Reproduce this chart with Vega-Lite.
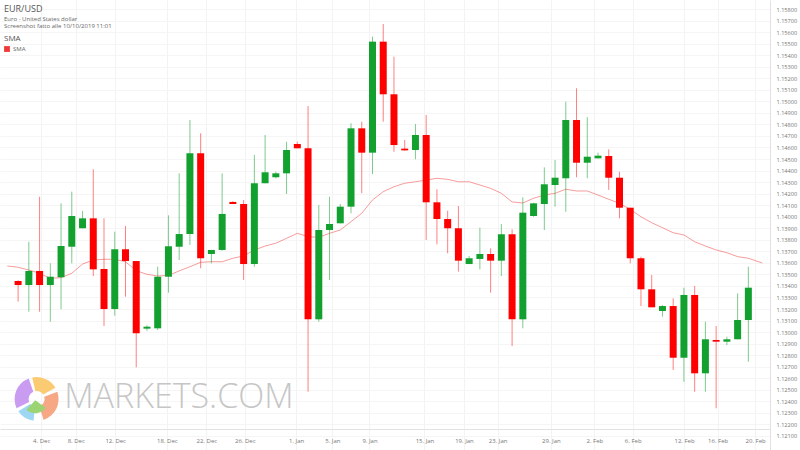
{
  "$schema": "https://vega.github.io/schema/vega-lite/v6.json",
  "width": 770,
  "height": 450,
  "autosize": {"type": "none"},
  "padding": {"left": 0, "top": 0, "right": 30, "bottom": 0},
  "background": "white",
  "config": {"view": {"stroke": null}, "font": "Open Sans"},
  "title": {
    "text": "EUR/USD",
    "subtitle": ["Euro - United States dollar", "Screenshot fatto alle 10/10/2019 11:01"],
    "anchor": "start",
    "frame": "group",
    "orient": "top",
    "offset": -29,
    "dx": 4,
    "fontSize": 9,
    "fontWeight": "normal",
    "color": "#555555",
    "subtitleFontSize": 6,
    "subtitleColor": "#666666",
    "subtitlePadding": 2,
    "subtitleLineHeight": 7.5
  },
  "datasets": {
    "candles": [
      {"i":1,"o":1.13443,"h":1.13450,"l":1.13264,"c":1.13408},
      {"i":2,"o":1.13408,"h":1.13783,"l":1.13177,"c":1.13530},
      {"i":3,"o":1.13530,"h":1.14173,"l":1.13177,"c":1.13408},
      {"i":4,"o":1.13408,"h":1.13596,"l":1.13090,"c":1.13480},
      {"i":5,"o":1.13475,"h":1.14116,"l":1.13198,"c":1.13746},
      {"i":6,"o":1.13740,"h":1.14217,"l":1.13596,"c":1.14006},
      {"i":7,"o":1.13900,"h":1.14050,"l":1.13900,"c":1.13986},
      {"i":8,"o":1.13986,"h":1.14411,"l":1.13486,"c":1.13544},
      {"i":9,"o":1.13547,"h":1.13986,"l":1.13053,"c":1.13200},
      {"i":10,"o":1.13200,"h":1.13870,"l":1.13142,"c":1.13718},
      {"i":11,"o":1.13718,"h":1.13920,"l":1.13307,"c":1.13616},
      {"i":12,"o":1.13616,"h":1.13616,"l":1.12695,"c":1.12990},
      {"i":13,"o":1.13030,"h":1.13060,"l":1.13012,"c":1.13047},
      {"i":14,"o":1.13033,"h":1.13567,"l":1.13018,"c":1.13480},
      {"i":15,"o":1.13480,"h":1.14012,"l":1.13342,"c":1.13744},
      {"i":16,"o":1.13740,"h":1.14376,"l":1.13625,"c":1.13850},
      {"i":17,"o":1.13850,"h":1.14838,"l":1.13755,"c":1.14550},
      {"i":18,"o":1.14550,"h":1.14723,"l":1.13553,"c":1.13640},
      {"i":19,"o":1.13677,"h":1.13712,"l":1.13596,"c":1.13712},
      {"i":20,"o":1.13712,"h":1.14376,"l":1.13705,"c":1.14024},
      {"i":21,"o":1.14128,"h":1.14135,"l":1.14110,"c":1.14110},
      {"i":22,"o":1.14110,"h":1.14145,"l":1.13452,"c":1.13590},
      {"i":23,"o":1.13590,"h":1.14535,"l":1.13567,"c":1.14290},
      {"i":24,"o":1.14290,"h":1.14708,"l":1.14290,"c":1.14385},
      {"i":25,"o":1.14342,"h":1.14390,"l":1.14333,"c":1.14376},
      {"i":26,"o":1.14376,"h":1.14650,"l":1.14197,"c":1.14578},
      {"i":27,"o":1.14630,"h":1.14650,"l":1.14593,"c":1.14593},
      {"i":28,"o":1.14593,"h":1.14959,"l":1.12484,"c":1.13111},
      {"i":29,"o":1.13111,"h":1.14102,"l":1.13090,"c":1.13885},
      {"i":30,"o":1.13885,"h":1.14173,"l":1.13452,"c":1.13937},
      {"i":31,"o":1.13943,"h":1.14110,"l":1.13943,"c":1.14087},
      {"i":32,"o":1.14087,"h":1.14810,"l":1.14030,"c":1.14766},
      {"i":33,"o":1.14766,"h":1.14823,"l":1.14203,"c":1.14555},
      {"i":34,"o":1.14555,"h":1.15560,"l":1.14370,"c":1.15517},
      {"i":35,"o":1.15517,"h":1.15670,"l":1.14823,"c":1.15061},
      {"i":36,"o":1.15061,"h":1.15387,"l":1.14563,"c":1.14621},
      {"i":37,"o":1.14590,"h":1.14665,"l":1.14572,"c":1.14575},
      {"i":38,"o":1.14578,"h":1.14803,"l":1.14498,"c":1.14708},
      {"i":39,"o":1.14708,"h":1.14881,"l":1.13798,"c":1.14125},
      {"i":40,"o":1.14125,"h":1.14238,"l":1.13761,"c":1.13980},
      {"i":41,"o":1.13980,"h":1.14052,"l":1.13683,"c":1.13900},
      {"i":42,"o":1.13900,"h":1.14093,"l":1.13524,"c":1.13619},
      {"i":43,"o":1.13590,"h":1.13660,"l":1.13590,"c":1.13640},
      {"i":44,"o":1.13634,"h":1.13905,"l":1.13544,"c":1.13677},
      {"i":45,"o":1.13677,"h":1.13726,"l":1.13342,"c":1.13619},
      {"i":46,"o":1.13619,"h":1.13937,"l":1.13486,"c":1.13848},
      {"i":47,"o":1.13848,"h":1.13891,"l":1.12880,"c":1.13111},
      {"i":48,"o":1.13111,"h":1.14168,"l":1.13033,"c":1.14035},
      {"i":49,"o":1.14006,"h":1.14121,"l":1.14000,"c":1.14116},
      {"i":50,"o":1.14110,"h":1.14428,"l":1.13885,"c":1.14281},
      {"i":51,"o":1.14275,"h":1.14491,"l":1.14087,"c":1.14338},
      {"i":52,"o":1.14333,"h":1.14997,"l":1.14043,"c":1.14838},
      {"i":53,"o":1.14838,"h":1.15113,"l":1.14342,"c":1.14468},
      {"i":54,"o":1.14468,"h":1.14862,"l":1.14333,"c":1.14520},
      {"i":55,"o":1.14506,"h":1.14555,"l":1.14506,"c":1.14529},
      {"i":56,"o":1.14526,"h":1.14584,"l":1.14232,"c":1.14338},
      {"i":57,"o":1.14338,"h":1.14390,"l":1.13986,"c":1.14078},
      {"i":58,"o":1.14078,"h":1.14078,"l":1.13596,"c":1.13640},
      {"i":59,"o":1.13640,"h":1.13654,"l":1.13226,"c":1.13371},
      {"i":60,"o":1.13371,"h":1.13495,"l":1.13215,"c":1.13215},
      {"i":61,"o":1.13183,"h":1.13235,"l":1.13134,"c":1.13226},
      {"i":62,"o":1.13226,"h":1.13293,"l":1.12672,"c":1.12778},
      {"i":63,"o":1.12778,"h":1.13385,"l":1.12570,"c":1.13322},
      {"i":64,"o":1.13322,"h":1.13400,"l":1.12484,"c":1.12643},
      {"i":65,"o":1.12643,"h":1.13090,"l":1.12484,"c":1.12938},
      {"i":66,"o":1.12932,"h":1.13053,"l":1.12340,"c":1.12917},
      {"i":67,"o":1.12917,"h":1.12960,"l":1.12888,"c":1.12938},
      {"i":68,"o":1.12938,"h":1.13336,"l":1.12938,"c":1.13105},
      {"i":69,"o":1.13105,"h":1.13567,"l":1.12744,"c":1.13385}
    ],
    "sma": [
      {"i":0,"v":1.13573},{"i":1,"v":1.13562},{"i":2,"v":1.13538},{"i":3,"v":1.13510},{"i":4,"v":1.13466},
      {"i":5,"v":1.13472},{"i":6,"v":1.13510},{"i":7,"v":1.13590},{"i":8,"v":1.13625},{"i":9,"v":1.13631},
      {"i":10,"v":1.13631},{"i":11,"v":1.13610},{"i":12,"v":1.13532},{"i":13,"v":1.13501},{"i":14,"v":1.13486},
      {"i":15,"v":1.13492},{"i":16,"v":1.13530},{"i":17,"v":1.13567},{"i":18,"v":1.13605},{"i":19,"v":1.13610},
      {"i":20,"v":1.13610},{"i":21,"v":1.13640},{"i":22,"v":1.13660},{"i":23,"v":1.13712},{"i":24,"v":1.13746},
      {"i":25,"v":1.13770},{"i":26,"v":1.13813},{"i":27,"v":1.13856},{"i":28,"v":1.13827},{"i":29,"v":1.13822},
      {"i":30,"v":1.13856},{"i":31,"v":1.13885},{"i":32,"v":1.13957},{"i":33,"v":1.14030},{"i":34,"v":1.14145},
      {"i":35,"v":1.14217},{"i":36,"v":1.14260},{"i":37,"v":1.14290},{"i":38,"v":1.14303},{"i":39,"v":1.14318},
      {"i":40,"v":1.14333},{"i":41,"v":1.14324},{"i":42,"v":1.14303},{"i":43,"v":1.14303},{"i":44,"v":1.14275},
      {"i":45,"v":1.14246},{"i":46,"v":1.14203},{"i":47,"v":1.14128},{"i":48,"v":1.14119},{"i":49,"v":1.14160},
      {"i":50,"v":1.14188},{"i":51,"v":1.14203},{"i":52,"v":1.14238},{"i":53,"v":1.14223},{"i":54,"v":1.14223},
      {"i":55,"v":1.14188},{"i":56,"v":1.14151},{"i":57,"v":1.14116},{"i":58,"v":1.14064},{"i":59,"v":1.14000},
      {"i":60,"v":1.13948},{"i":61,"v":1.13905},{"i":62,"v":1.13861},{"i":63,"v":1.13842},{"i":64,"v":1.13783},
      {"i":65,"v":1.13746},{"i":66,"v":1.13712},{"i":67,"v":1.13688},{"i":68,"v":1.13654},{"i":69,"v":1.13640},
      {"i":70.3,"v":1.13599}
    ],
    "logo": [
      {"seg":"purple","a0":4.25,"a1":5.95},
      {"seg":"yellow","a0":6.05,"a1":7.35},
      {"seg":"salmon","a0":1.2,"a1":2.85},
      {"seg":"blue","a0":3.25,"a1":4.15}
    ],
    "one": [{"name":"MARKETS.COM"}]
  },
  "layer": [
    {
      "data": {"name": "one"},
      "mark": {"type": "text", "fontSize": 34, "fontWeight": 300, "font": "Open Sans", "color": "#c6c6c6", "align": "left", "baseline": "alphabetic"},
      "encoding": {
        "x": {"datum": 5.29, "type": "quantitative", "scale": {"domain": [-0.22, 70.55], "nice": false, "zero": false},
          "axis": {"orient": "bottom", "offset": -21, "title": null, "ticks": false, "grid": true, "gridColor": "#f3f3f3",
            "domainColor": "#e2e2e2", "labelFontSize": 6, "labelColor": "#777777", "labelPadding": 8, "labelOverlap": false, "labelFlush": false,
            "tickCount": 40,
            "values": [3.15,6.37,10.04,14.85,18.53,22.11,26.89,30.26,33.72,38.84,42.52,45.65,50.61,54.66,58.23,63.01,66.14,69.63],
            "labelExpr": "['4. Dec','8. Dec','12. Dec','18. Dec','22. Dec','26. Dec','1. Jan','5. Jan','9. Jan','15. Jan','19. Jan','23. Jan','29. Jan','2. Feb','6. Feb','12. Feb','16. Feb','20. Feb'][indexof([3.15,6.37,10.04,14.85,18.53,22.11,26.89,30.26,33.72,38.84,42.52,45.65,50.61,54.66,58.23,63.01,66.14,69.63], datum.value)]"}},
        "y": {"datum": 1.12342, "type": "quantitative", "scale": {"domain": [1.119785, 1.15878], "nice": false, "zero": false},
          "axis": {"orient": "right", "title": null, "ticks": false, "grid": true, "gridColor": "#f5f5f5", "domainColor": "#e2e2e2",
            "labelFontSize": 5.6, "labelColor": "#777777", "labelPadding": 6, "format": ".5f", "labelOverlap": false, "labelFlush": false,
            "tickCount": 60,
            "values": [1.121,1.122,1.123,1.124,1.125,1.126,1.127,1.128,1.129,1.13,1.131,1.132,1.133,1.134,1.135,1.136,1.137,1.138,1.139,1.14,1.141,1.142,1.143,1.144,1.145,1.146,1.147,1.148,1.149,1.15,1.151,1.152,1.153,1.154,1.155,1.156,1.157,1.158]}},
        "text": {"field": "name"}
      }
    },
    {
      "data": {"name": "logo"},
      "mark": {"type": "arc", "outerRadius": 22, "innerRadius": 8, "padAngle": 0.06},
      "encoding": {
        "x": {"datum": 2.72, "type": "quantitative", "scale": {"domain": [-0.22, 70.55], "nice": false, "zero": false}},
        "y": {"datum": 1.1242, "type": "quantitative", "scale": {"domain": [1.119785, 1.15878], "nice": false, "zero": false}},
        "theta": {"field": "a0", "type": "quantitative", "scale": null, "stack": null},
        "theta2": {"field": "a1"},
        "color": {"field": "seg", "type": "nominal", "legend": null,
          "scale": {"domain": ["purple", "yellow", "salmon", "blue"], "range": ["#c99cf2", "#fbcb74", "#f6a783", "#9dd7f3"]}}
      }
    },
    {
      "data": {"name": "one"},
      "mark": {"type": "arc", "outerRadius": 13, "innerRadius": 0, "color": "#9cd474"},
      "encoding": {
        "x": {"datum": 2.6, "type": "quantitative", "scale": {"domain": [-0.22, 70.55], "nice": false, "zero": false}},
        "y": {"datum": 1.1241, "type": "quantitative", "scale": {"domain": [1.119785, 1.15878], "nice": false, "zero": false}},
        "theta": {"datum": 2.2, "type": "quantitative", "scale": null, "stack": null},
        "theta2": {"datum": 3.9}
      }
    },
    {
      "data": {"name": "sma"},
      "mark": {"type": "line", "strokeWidth": 1, "opacity": 0.5},
      "encoding": {
        "x": {"field": "i", "type": "quantitative", "scale": {"domain": [-0.22, 70.55], "nice": false, "zero": false}},
        "y": {"field": "v", "type": "quantitative", "scale": {"domain": [1.119785, 1.15878], "nice": false, "zero": false}},
        "color": {"datum": "SMA", "type": "nominal", "scale": {"domain": ["SMA"], "range": ["#f03a3a"]},
          "legend": {"orient": "none", "legendX": 4, "legendY": 35, "title": "SMA", "titleFontSize": 8, "titleFontWeight": "normal",
            "titleColor": "#555555", "labelFontSize": 6, "labelColor": "#666666", "symbolType": "square", "symbolSize": 8,
            "symbolStrokeWidth": 3, "symbolOpacity": 1, "symbolStrokeColor": "#f43c3c", "symbolFillColor": "#f43c3c",
            "titlePadding": 3, "labelOffset": 3}}
      }
    },
    {
      "data": {"name": "candles"},
      "mark": {"type": "rule", "strokeWidth": 1, "opacity": 0.55},
      "encoding": {
        "x": {"field": "i", "type": "quantitative", "scale": {"domain": [-0.22, 70.55], "nice": false, "zero": false}},
        "y": {"field": "l", "type": "quantitative", "scale": {"domain": [1.119785, 1.15878], "nice": false, "zero": false}},
        "y2": {"field": "h"},
        "color": {"condition": {"test": "datum.c >= datum.o", "value": "#14a032"}, "value": "#ff1a1a"}
      }
    },
    {
      "data": {"name": "candles"},
      "mark": {"type": "bar", "size": 7},
      "encoding": {
        "x": {"field": "i", "type": "quantitative", "scale": {"domain": [-0.22, 70.55], "nice": false, "zero": false}},
        "y": {"field": "o", "type": "quantitative", "scale": {"domain": [1.119785, 1.15878], "nice": false, "zero": false}},
        "y2": {"field": "c"},
        "color": {"condition": {"test": "datum.c >= datum.o", "value": "#12a02e"}, "value": "#ff0000"}
      }
    }
  ],
  "resolve": {"scale": {"color": "independent"}}
}
